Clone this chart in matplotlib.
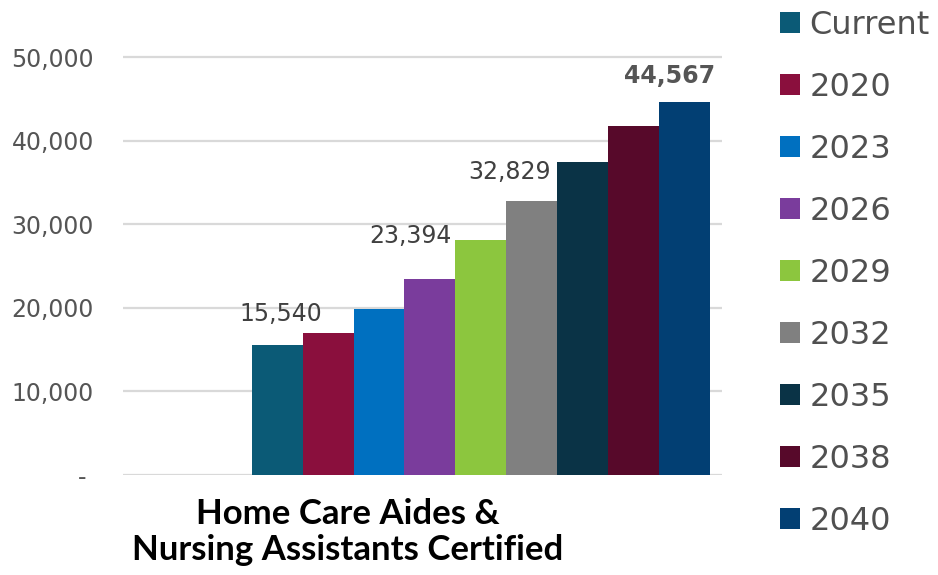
import numpy as np
import matplotlib.pyplot as plt
from matplotlib.patches import Patch

# Workforce demand series
series = ['Current', '2020', '2023', '2026', '2029', '2032', '2035', '2038', '2040']
values = [15540, 17000, 19800, 23394, 28100, 32829, 37400, 41750, 44567]
colors = ['#0b5a76', '#8a0f3d', '#0070c0', '#7a3c9c', '#8cc63e',
          '#808080', '#0a3346', '#57092a', '#023f73']
category = 'Home Care Aides &\nNursing Assistants Certified'

# which bars carry a value label, and how the label sits (pixel offsets, bold)
labelled = {0: (4, 31, False), 3: (-19, 43, False), 5: (-22, 29, False), 8: (-15, 26, True)}

fig = plt.figure(figsize=(9.38, 5.75), dpi=100)
ax = fig.add_axes([0.1311, 0.1739, 0.6386, 0.756])

x = np.arange(len(values))
bars = ax.bar(x, values, width=1.0, color=colors, zorder=3)

ax.set_ylim(0, 52000)
ax.set_xlim(-3.03, 8.74)
ax.set_yticks([0, 10000, 20000, 30000, 40000, 50000])
ax.set_yticklabels(['- ', '10,000', '20,000', '30,000', '40,000', '50,000'],
                   fontsize=17, color='#555555')
ax.tick_params(axis='y', length=0, pad=21)
ax.set_xticks([])
ax.grid(axis='y', color='#d9d9d9', linewidth=1.6, zorder=0)
for s in ax.spines.values():
    s.set_visible(False)

for i, (dx, dy, bold) in labelled.items():
    ax.annotate(f'{values[i]:,}', xy=(x[i], values[i]), xytext=(dx, dy),
                textcoords='offset pixels', ha='center', va='center',
                fontsize=17, color='#555555' if bold else '#404040',
                fontweight='bold' if bold else 'normal')

fig.text(348 / 938, 1 - 532 / 575, category, ha='center', va='center',
         fontsize=25, fontweight='bold', family='Lato', linespacing=1.13)

handles = [Patch(facecolor=c, label=s) for c, s in zip(colors, series)]
fig.legend(handles=handles, loc='upper left', bbox_to_anchor=(780 / 938, 1 - 10 / 575),
           frameon=False, fontsize=23, labelcolor='#505050',
           handlelength=0.63, handleheight=0.63, handletextpad=0.3,
           labelspacing=0.97, borderpad=0, borderaxespad=0)

fig.savefig('out.png', dpi=100)
